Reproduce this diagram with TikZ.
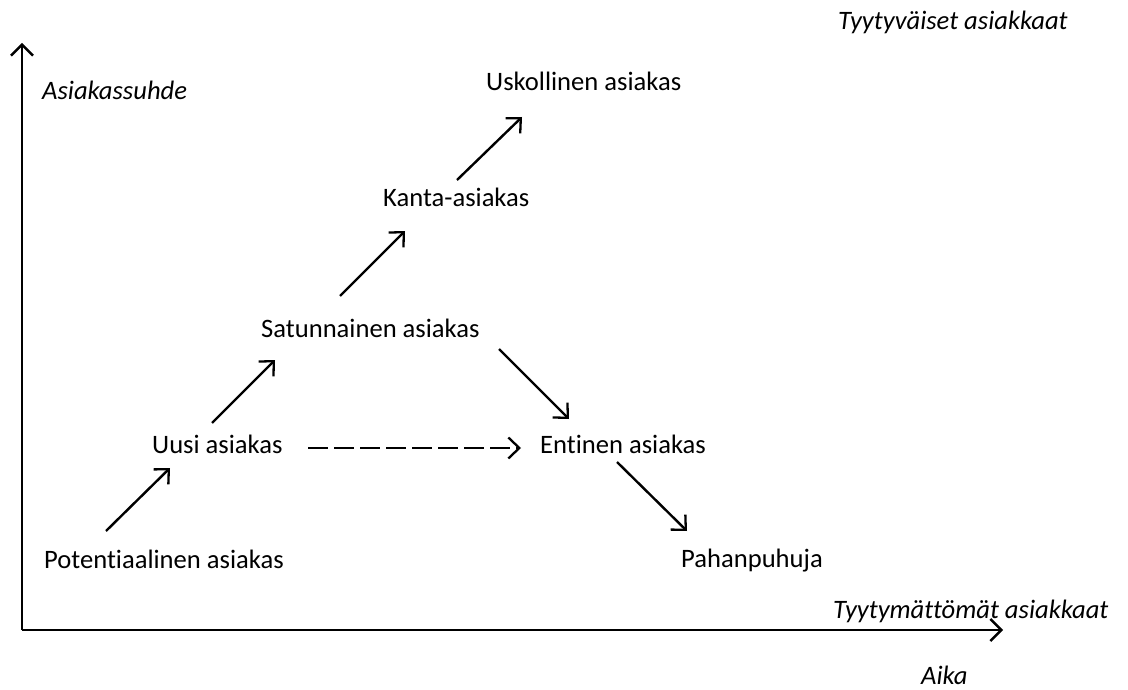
\documentclass[tikz,border=0pt]{standalone}
\usepackage{fontspec}
\setmainfont[Ligatures=NoCommon]{Carlito}
\usetikzlibrary{arrows.meta}
\begin{document}
\begin{tikzpicture}[x=1pt,y=-1pt,
  lbl/.style={anchor=base west,inner sep=0pt,font=\fontsize{26.6}{31}\selectfont},
  ilbl/.style={lbl,font=\fontsize{26.6}{31}\selectfont\itshape},
  axis/.style={line width=2.8pt,-{Straight Barb[length=11pt,width=22pt,line width=2.4pt]}},
  flow/.style={line width=2.4pt,-{Straight Barb[length=11pt,width=21pt,line width=2.3pt]}},
  dflow/.style={flow,dash pattern=on 20pt off 6pt}]
\useasboundingbox (0,0) rectangle (1128,690);
% labels
\node[ilbl] (tyyt) at (838,30) {Tyytyväiset asiakkaat};
\node[ilbl] (suhde) at (42,100) {Asiakassuhde};
\node[lbl] (usk) at (486,91) {Uskollinen asiakas};
\node[lbl] (kanta) at (383,207) {Kanta-asiakas};
\node[lbl] (sat) at (261,337) {Satunnainen asiakas};
\node[lbl] (uusi) at (152,453) {Uusi asiakas};
\node[lbl] (ent) at (540,453) {Entinen asiakas};
\node[lbl] (pot) at (44,568) {Potentiaalinen asiakas};
\node[lbl] (pah) at (681,567) {Pahanpuhuja};
\node[ilbl] (tyytm) at (833,618) {Tyytymättömät asiakkaat};
\node[ilbl] (aika) at (921,684) {Aika};
% axes
\coordinate (origin) at (22,630);
\coordinate (ytip) at (22,43);
\coordinate (xtip) at (1003,630);
\draw[axis] (origin) -- (ytip);
\draw[axis] (origin) -- (xtip);
% arrow end points
\coordinate (a1s) at (106,531); \coordinate (a1e) at (170,468);
\coordinate (a2s) at (212,423); \coordinate (a2e) at (275,360);
\coordinate (a3s) at (340,296); \coordinate (a3e) at (405,231);
\coordinate (a4s) at (457,180); \coordinate (a4e) at (522,117);
\coordinate (a5s) at (499,349); \coordinate (a5e) at (569,419);
\coordinate (a6s) at (617,462); \coordinate (a6e) at (687,531);
\coordinate (d1s) at (308,448); \coordinate (d1e) at (521,448);
\draw[flow] (a1s) -- (a1e);
\draw[flow] (a2s) -- (a2e);
\draw[flow] (a3s) -- (a3e);
\draw[flow] (a4s) -- (a4e);
\draw[flow] (a5s) -- (a5e);
\draw[flow] (a6s) -- (a6e);
\draw[dflow] (d1s) -- (d1e);
\end{tikzpicture}
\end{document}
